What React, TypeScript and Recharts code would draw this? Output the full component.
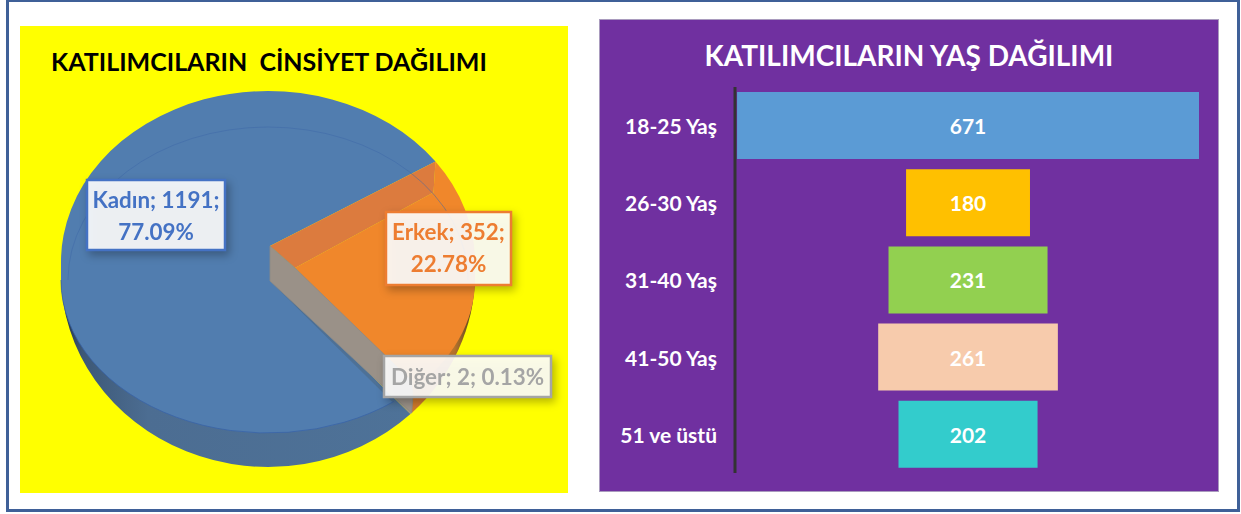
import { PieChart, Pie, BarChart, Bar, XAxis, YAxis, Cell, LabelList } from 'recharts';

const FONT = 'Lato, "Open Sans", sans-serif';

// gender pie
const genderNames = ['Kadın', 'Erkek', 'Diğer'];
const genderValues = [1191, 352, 2];
const genderColors = ['#517DAF', '#F0872B', '#9A9188'];
const genderTextColors = ['#4472C4', '#ED7D31', '#A5A5A5'];

// age funnel
const ageLabels = ['18-25 Yaş', '26-30 Yaş', '31-40 Yaş', '41-50 Yaş', '51 ve üstü'];
const ageValues = [671, 180, 231, 261, 202];
const ageColors = ['#5B9BD5', '#FFC000', '#92D050', '#F7CBAC', '#33CCCC'];

const genderTotal = genderValues.reduce((a, b) => a + b, 0);
const genderData = genderNames.map((name, i) => ({ name, value: genderValues[i], color: genderColors[i], textColor: genderTextColors[i] }));
const maxAge = Math.max(...ageValues);
const ageData = ageLabels.map((label, i) => ({ label, spacer: (maxAge - ageValues[i]) / 2, value: ageValues[i] }));

// perspective look: back half of the top face, front half of the top face, outer wall
const RY_BACK = 171;
const RY_FRONT = 153;
const FRONT_DROP = 18;
const RY_WALL = 193;
const WALL_DROP = 12;

// point on the top face, angle in recharts degrees
const topPt = (cx: number, cy: number, r: number, angle: number) => {
  const a = (angle * Math.PI) / 180;
  const s = Math.sin(a);
  const y = s >= 0 ? cy - RY_BACK * s : cy + FRONT_DROP - RY_FRONT * s;
  return [cx + r * Math.cos(a), y];
};

const wallPt = (cx: number, cy: number, r: number, angle: number) => {
  const a = (angle * Math.PI) / 180;
  return [cx + r * Math.cos(a), cy + WALL_DROP - RY_WALL * Math.sin(a)];
};

const SideShape = (props: any) => {
  const { cx, cy, outerRadius: r, startAngle, endAngle, name, fill } = props;
  // only the lower half of the wall can be seen
  const from = startAngle > -180 ? startAngle : Math.min(startAngle, -360);
  const to = startAngle > -180 ? Math.max(endAngle, -180) : endAngle;
  const [x1, y1] = wallPt(cx, cy, r, from);
  const [x2, y2] = wallPt(cx, cy, r, to);
  const side = name === 'Kadın' ? 'url(#blueSide)' : name === 'Erkek' ? 'url(#orangeSide)' : fill;
  return <path d={`M${cx},${cy + WALL_DROP} L${x1},${y1} A${r},${RY_WALL} 0 0 1 ${x2},${y2} Z`} fill={side} />;
};

const TopShape = (props: any) => {
  const { cx, cy, outerRadius: r, startAngle, endAngle, name, fill } = props;
  const apexTop = [cx + 2, cy - 16];
  const apexLow = [cx + 2, cy + 19];
  const floorInner = [cx + 27, cy + 6];

  if (name === 'Kadın') {
    const [wx, wy] = topPt(cx, cy, r, startAngle - 6.5);
    const [ex, ey] = topPt(cx, cy, r, endAngle);
    return (
      <path
        d={`M${wx},${wy} A${r},${RY_FRONT} 0 0 1 ${cx - r},${cy + FRONT_DROP} L${cx - r},${cy} A${r},${RY_BACK} 0 0 1 ${ex},${ey} L${apexTop[0]},${apexTop[1]} L${apexLow[0]},${apexLow[1]} Z`}
        fill={fill}
      />
    );
  }

  if (name === 'Erkek') {
    const [sx, sy] = topPt(cx, cy, r, startAngle);
    const [ex, ey] = topPt(cx, cy, r, endAngle);
    const backInner = [sx - 2, sy + 31];
    return (
      <g>
        <path
          d={`M${floorInner[0]},${floorInner[1]} L${backInner[0]},${backInner[1]} L${sx},${sy} A${r},${RY_BACK} 0 0 1 ${cx + r},${cy} L${cx + r},${cy + FRONT_DROP} A${r},${RY_FRONT} 0 0 1 ${ex},${ey} Z`}
          fill={fill}
        />
        <path
          d={`M${apexTop[0]},${apexTop[1]} L${sx},${sy} L${backInner[0]},${backInner[1]} L${floorInner[0]},${floorInner[1]} Z`}
          fill="#DC7B3E"
        />
      </g>
    );
  }

  // the smallest slice is the grey wall along the cut
  const [tx, ty] = topPt(cx, cy, r, startAngle);
  const [bx, by] = wallPt(cx, cy, r, startAngle);
  const [lx, ly] = topPt(cx, cy, r, startAngle - 6.5);
  const ri = r - 7;
  return (
    <g>
      <path
        d={`M${apexTop[0]},${apexTop[1]} L${floorInner[0]},${floorInner[1]} L${tx},${ty - 9} L${tx + 1},${ty + 8} L${bx},${by} L${apexLow[0]},${apexLow[1]} Z`}
        fill={fill}
        stroke="#8A8A88"
        strokeWidth={0.8}
      />
      <path
        d={`M${cx - ri},${cy + FRONT_DROP} A${ri},${RY_FRONT} 0 0 1 ${cx + ri},${cy + FRONT_DROP}`}
        fill="none"
        stroke="#3E68A8"
        strokeOpacity={0.5}
      />
      <path
        d={`M${lx},${ly} A${r},${RY_FRONT} 0 0 1 ${cx - r},${cy + FRONT_DROP}`}
        fill="none"
        stroke="#3A64A8"
        strokeOpacity={0.8}
      />
    </g>
  );
};

const labelBoxes: Record<string, { x: number; y: number; w: number; h: number; size: number }> = {
  Kadın: { x: 67, y: 154, w: 138, h: 70, size: 22.4 },
  Erkek: { x: 366, y: 186, w: 125, h: 73, size: 22.4 },
  Diğer: { x: 364, y: 330, w: 167, h: 41, size: 22.4 },
};

const GenderLabel = (props: any) => {
  const { name, value, payload } = props;
  const box = labelBoxes[name];
  if (!box) return null;
  const pct = ((value / genderTotal) * 100).toFixed(2) + '%';
  const lines = name === 'Diğer' ? [`${name}; ${value}; ${pct}`] : [`${name}; ${value};`, pct];
  const color = payload?.textColor ?? props.textColor;
  const mid = box.x + box.w / 2;
  return (
    <g style={{ filter: 'drop-shadow(3px 4px 4px rgba(0,0,0,0.3))' }}>
      <rect x={box.x} y={box.y} width={box.w} height={box.h} fill="#FFFFFF" fillOpacity={0.9} stroke={color} strokeWidth={2.5} />
      {lines.map((line, i) => (
        <text
          key={i}
          x={mid}
          y={box.y + (lines.length === 1 ? 29 : 28 + i * 32)}
          textAnchor="middle"
          fontFamily={FONT}
          fontWeight={700}
          fontSize={box.size}
          fill={color}
        >
          {line}
        </text>
      ))}
    </g>
  );
};

export default function App() {
  return (
    <div style={{ position: 'absolute', left: 0, top: 0, width: 1241, height: 514, background: '#fff', overflow: 'hidden' }}>
      {/* outer frame */}
      <div style={{ position: 'absolute', left: 6, top: -1, width: 1234, height: 513, boxSizing: 'border-box', border: '3px solid #3F6098' }} />

      {/* gender pie */}
      <div style={{ position: 'absolute', left: 20, top: 26, width: 548, height: 467, background: '#FFFF00' }}>
        <div style={{ position: 'absolute', left: 31, top: 20, fontFamily: FONT, fontWeight: 700, fontSize: 25, color: '#000', whiteSpace: 'pre' }}>
          KATILIMCILARIN  CİNSİYET DAĞILIMI
        </div>
        <PieChart width={548} height={467} margin={{ top: 0, right: 0, bottom: 0, left: 0 }} style={{ position: 'absolute', left: 0, top: 0 }}>
          <defs>
            <linearGradient id="blueSide" x1="0" y1="0" x2="1" y2="0">
              <stop offset="0" stopColor="#1F2F40" />
              <stop offset="0.06" stopColor="#3D5876" />
              <stop offset="0.25" stopColor="#4C6D92" />
              <stop offset="1" stopColor="#4E7298" />
            </linearGradient>
            <linearGradient id="orangeSide" x1="0" y1="0" x2="1" y2="0">
              <stop offset="0" stopColor="#D0782C" />
              <stop offset="0.8" stopColor="#CF7A2C" />
              <stop offset="0.9" stopColor="#B8742C" />
              <stop offset="1" stopColor="#4A3E1A" />
            </linearGradient>
          </defs>
          <Pie
            data={genderData}
            dataKey="value"
            nameKey="name"
            cx={248}
            cy={236}
            outerRadius={207}
            startAngle={-46.5}
            endAngle={-406.5}
            stroke="none"
            isAnimationActive={false}
            shape={SideShape}
          >
            {genderData.map((d) => (
              <Cell key={d.name} fill={d.color} />
            ))}
          </Pie>
          <Pie
            data={genderData}
            dataKey="value"
            nameKey="name"
            cx={248}
            cy={236}
            outerRadius={207}
            startAngle={-46.5}
            endAngle={-406.5}
            stroke="none"
            isAnimationActive={false}
            shape={TopShape}
            label={GenderLabel}
            labelLine={false}
          >
            {genderData.map((d) => (
              <Cell key={d.name} fill={d.color} />
            ))}
          </Pie>
        </PieChart>
      </div>

      {/* age funnel */}
      <div style={{ position: 'absolute', left: 600, top: 20, width: 618, height: 471, boxSizing: 'border-box', background: '#7030A0', outline: '1.5px solid #A99BBE' }}>
        <div style={{ position: 'absolute', left: 0, width: 618, top: 18, textAlign: 'center', fontFamily: FONT, fontWeight: 700, fontSize: 28, color: '#fff' }}>
          KATILIMCILARIN YAŞ DAĞILIMI
        </div>
        <BarChart
          layout="vertical"
          width={618}
          height={471}
          data={ageData}
          margin={{ top: 67, right: 19, bottom: 18, left: 0 }}
          barCategoryGap={5}
          style={{ position: 'absolute', left: 0, top: 0 }}
        >
          <XAxis type="number" hide domain={[-3, maxAge]} />
          <YAxis
            type="category"
            dataKey="label"
            width={135}
            tickLine={false}
            tickMargin={12}
            axisLine={{ stroke: '#333333', strokeWidth: 3 }}
            tick={{ fill: '#FFFFFF', fontSize: 21, fontWeight: 700, fontFamily: FONT, dy: 1 }}
          />
          <Bar dataKey="spacer" stackId="a" fill="none" isAnimationActive={false} />
          <Bar dataKey="value" stackId="a" isAnimationActive={false}>
            {ageData.map((d, i) => (
              <Cell key={d.label} fill={ageColors[i]} />
            ))}
            <LabelList dataKey="value" position="center" fill="#FFFFFF" fontSize={21} fontWeight={700} fontFamily={FONT} dy={1} />
          </Bar>
        </BarChart>
      </div>
    </div>
  );
}
